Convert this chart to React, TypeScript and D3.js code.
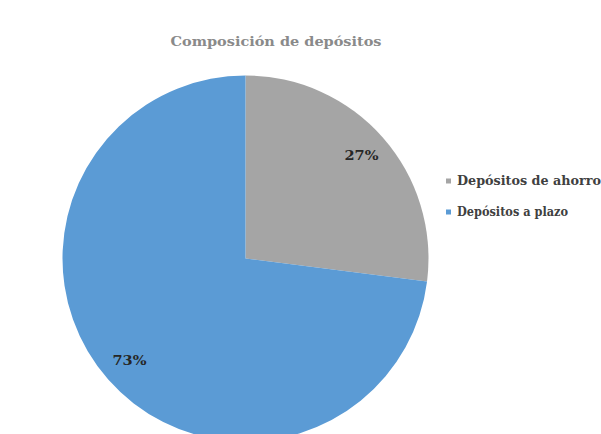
import React from "react";
import * as d3 from "d3";

const categories = ["Depósitos de ahorro", "Depósitos a plazo"];
const values = [27, 73];
const colors = ["#A5A5A5", "#5B9BD5"];
const title = "Composición de depósitos";

export default function App() {
  const width = 601;
  const height = 434;
  const cx = 245.5;
  const cy = 258.5;
  const r = 183;
  const pie = d3.pie<number>().sort(null).value((d) => d)(values);
  const arc = d3.arc<d3.PieArcDatum<number>>().innerRadius(0).outerRadius(r);
  const lr = r * 0.845;
  const labelArc = d3.arc<d3.PieArcDatum<number>>().innerRadius(lr).outerRadius(lr);
  const total = d3.sum(values);
  const font = "'DejaVu Serif', serif";
  return (
    <svg
      width={width}
      height={height}
      style={{ position: "absolute", left: 0, top: 0, background: "#fff" }}
    >
      <text
        x={276}
        y={46}
        textAnchor="middle"
        fontFamily={font}
        fontWeight="bold"
        fontSize={13.5}
        fill="#8a8a8a"
        textLength={211}
        lengthAdjust="spacingAndGlyphs"
      >
        {title}
      </text>
      <g transform={`translate(${cx},${cy})`}>
        {pie.map((p, i) => (
          <path key={i} d={arc(p) || ""} fill={colors[i]} />
        ))}
        {pie.map((p, i) => {
          const [x, y] = labelArc.centroid(p);
          return (
            <text
              key={"l" + i}
              x={x}
              y={y}
              dy="0.35em"
              textAnchor="middle"
              fontFamily={font}
              fontWeight="bold"
              fontSize={12}
              fill="#262626"
              textLength={34}
              lengthAdjust="spacingAndGlyphs"
            >
              {Math.round((values[i] / total) * 100) + "%"}
            </text>
          );
        })}
      </g>
      <g transform="translate(446,181)">
        {categories.map((c, i) => (
          <g key={c} transform={`translate(0,${i * 31})`}>
            <rect x={0} y={-2.5} width={5} height={5} fill={colors[i]} />
            <text
              x={11}
              y={0}
              dy="0.35em"
              fontFamily={font}
              fontWeight="bold"
              fontSize={12}
              fill="#404040"
              textLength={i === 0 ? 144 : 111}
              lengthAdjust="spacingAndGlyphs"
            >
              {c}
            </text>
          </g>
        ))}
      </g>
    </svg>
  );
}
